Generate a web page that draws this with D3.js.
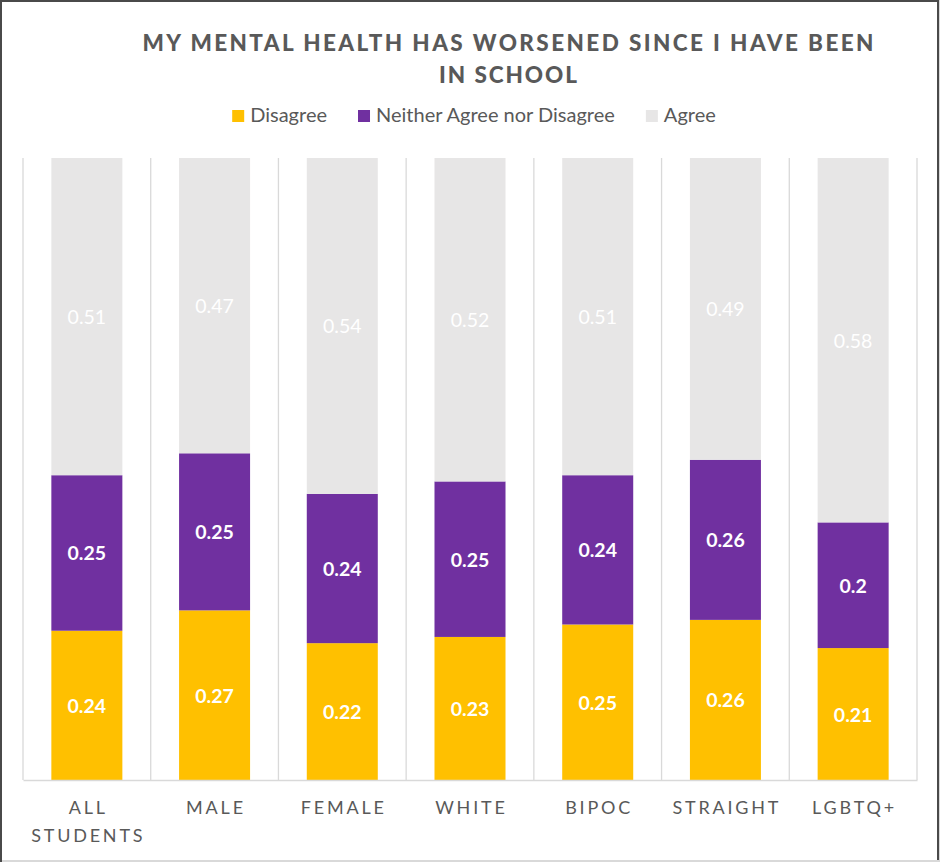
<!DOCTYPE html>
<html>
<head>
<meta charset="utf-8">
<script src="https://cdn.jsdelivr.net/npm/d3@7"></script>
<style>
  body { margin: 0; background: #fff; }
  text { font-family: Lato, "Open Sans", sans-serif; }
</style>
</head>
<body>
<script>
// chart data
var categories = ["ALL STUDENTS", "MALE", "FEMALE", "WHITE", "BIPOC", "STRAIGHT", "LGBTQ+"];
var seriesNames = ["Disagree", "Neither Agree nor Disagree", "Agree"];
var disagree = [0.24, 0.27, 0.22, 0.23, 0.25, 0.26, 0.21];
var neither  = [0.25, 0.25, 0.24, 0.25, 0.24, 0.26, 0.2];
var agree    = [0.51, 0.47, 0.54, 0.52, 0.51, 0.49, 0.58];
var titleLines = ["MY MENTAL HEALTH HAS WORSENED SINCE I HAVE BEEN", "IN SCHOOL"];

var w = 940, h = 862;
var colors = ["#FFC000", "#7030A0", "#E7E6E6"];

var svg = d3.select("body").append("svg")
    .attr("width", w)
    .attr("height", h);

// frame
svg.append("rect")
    .attr("x", 0.5).attr("y", 0.5)
    .attr("width", w - 1).attr("height", h - 1.5)
    .style("fill", "#fff")
    .style("stroke", "#d9d9d9")
    .style("stroke-width", 2);
svg.append("path")
    .attr("d", "M1,862V1H938V860")
    .style("fill", "none")
    .style("stroke", "#4a4a4a")
    .style("stroke-width", 2);

// rows for the stack
var rows = categories.map(function(c, i){
    return { cat: c, "Disagree": disagree[i], "Neither Agree nor Disagree": neither[i], "Agree": agree[i] };
});

var stacked = d3.stack()
    .keys(seriesNames)
    .offset(d3.stackOffsetExpand)(rows);

var x = d3.scaleBand()
    .domain(categories)
    .range([23, 917])
    .padding(0);

var y = d3.scaleLinear()
    .domain([0, 1])
    .range([780, 158]);

var barW = x.bandwidth() * 0.556;

// vertical gridlines between categories
var bounds = categories.map(function(c){ return x(c); }).concat([x.range()[1]]);
svg.selectAll(".grid")
    .data(bounds)
    .enter()
    .append("line")
    .attr("class", "grid")
    .attr("x1", function(d){ return d; })
    .attr("x2", function(d){ return d; })
    .attr("y1", y(1))
    .attr("y2", y(0))
    .style("stroke", "#d9d9d9")
    .style("stroke-width", 1.3);

// bars
var layers = svg.selectAll(".layer")
    .data(stacked)
    .enter()
    .append("g")
    .attr("class", "layer")
    .style("fill", function(d, i){ return colors[i]; });

layers.selectAll("rect")
    .data(function(d){ return d; })
    .enter()
    .append("rect")
    .attr("x", function(d){ return x(d.data.cat) + (x.bandwidth() - barW) / 2; })
    .attr("width", barW)
    .attr("y", function(d){ return y(d[1]); })
    .attr("height", function(d){ return y(d[0]) - y(d[1]); });

// value labels
layers.each(function(s, si){
    d3.select(this).selectAll(".val")
        .data(s)
        .enter()
        .append("text")
        .attr("class", "val")
        .attr("text-anchor", "middle")
        .attr("dominant-baseline", "central")
        .attr("x", function(d){ return x(d.data.cat) + x.bandwidth() / 2; })
        .attr("y", function(d){ return (y(d[0]) + y(d[1])) / 2; })
        .style("fill", "#fff")
        .style("font-size", "19.5px")
        .style("font-weight", si === 2 ? "normal" : "bold")
        .text(function(d){ return d.data[s.key]; });
});

// axis line
var xAxis = d3.axisBottom(x).tickSize(0).tickFormat("");
var axisG = svg.append("g")
    .attr("transform", "translate(0," + y(0) + ")")
    .call(xAxis);
axisG.select(".domain").style("stroke", "#d9d9d9").style("stroke-width", 1.5);

// category labels, wrapped on spaces
var catLabels = svg.selectAll(".cat")
    .data(categories)
    .enter()
    .append("text")
    .attr("class", "cat")
    .attr("text-anchor", "middle")
    .attr("y", 814)
    .style("fill", "#595959")
    .style("font-size", "18px")
    .style("letter-spacing", "2.8px");

catLabels.selectAll("tspan")
    .data(function(d){ return d.split(" ").map(function(t){ return { t: t, c: d }; }); })
    .enter()
    .append("tspan")
    .attr("x", function(d){ return x(d.c) + x.bandwidth() / 2 + 1.4; })
    .attr("dy", function(d, i){ return i === 0 ? 0 : 28; })
    .text(function(d){ return d.t; });

// title
svg.selectAll(".title")
    .data(titleLines)
    .enter()
    .append("text")
    .attr("class", "title")
    .attr("text-anchor", "middle")
    .attr("x", 508)
    .attr("y", function(d, i){ return 51 + i * 32; })
    .attr("textLength", function(d, i){ return i === 0 ? 731 : 138; })
    .attr("lengthAdjust", "spacing")
    .style("fill", "#595959")
    .style("font-size", "22.5px")
    .style("font-weight", "900")
    .text(function(d){ return d; });

// legend
var legend = svg.append("g").attr("class", "legend");
var items = legend.selectAll(".item")
    .data(seriesNames)
    .enter()
    .append("g")
    .attr("class", "item");
items.append("rect")
    .attr("width", 12).attr("height", 12)
    .attr("y", 110)
    .style("fill", function(d, i){ return colors[i]; });
items.append("text")
    .attr("x", 18)
    .attr("y", 122)
    .style("fill", "#595959")
    .style("font-size", "20px")
    .text(function(d){ return d; });

var offs = [], cur = 0;
items.each(function(){
    offs.push(cur);
    cur += 18 + this.querySelector("text").getComputedTextLength() + 31;
});
var total = cur - 31;
var start = 474 - total / 2;
items.attr("transform", function(d, i){ return "translate(" + (start + offs[i]) + ",0)"; });
</script>
</body>
</html>
